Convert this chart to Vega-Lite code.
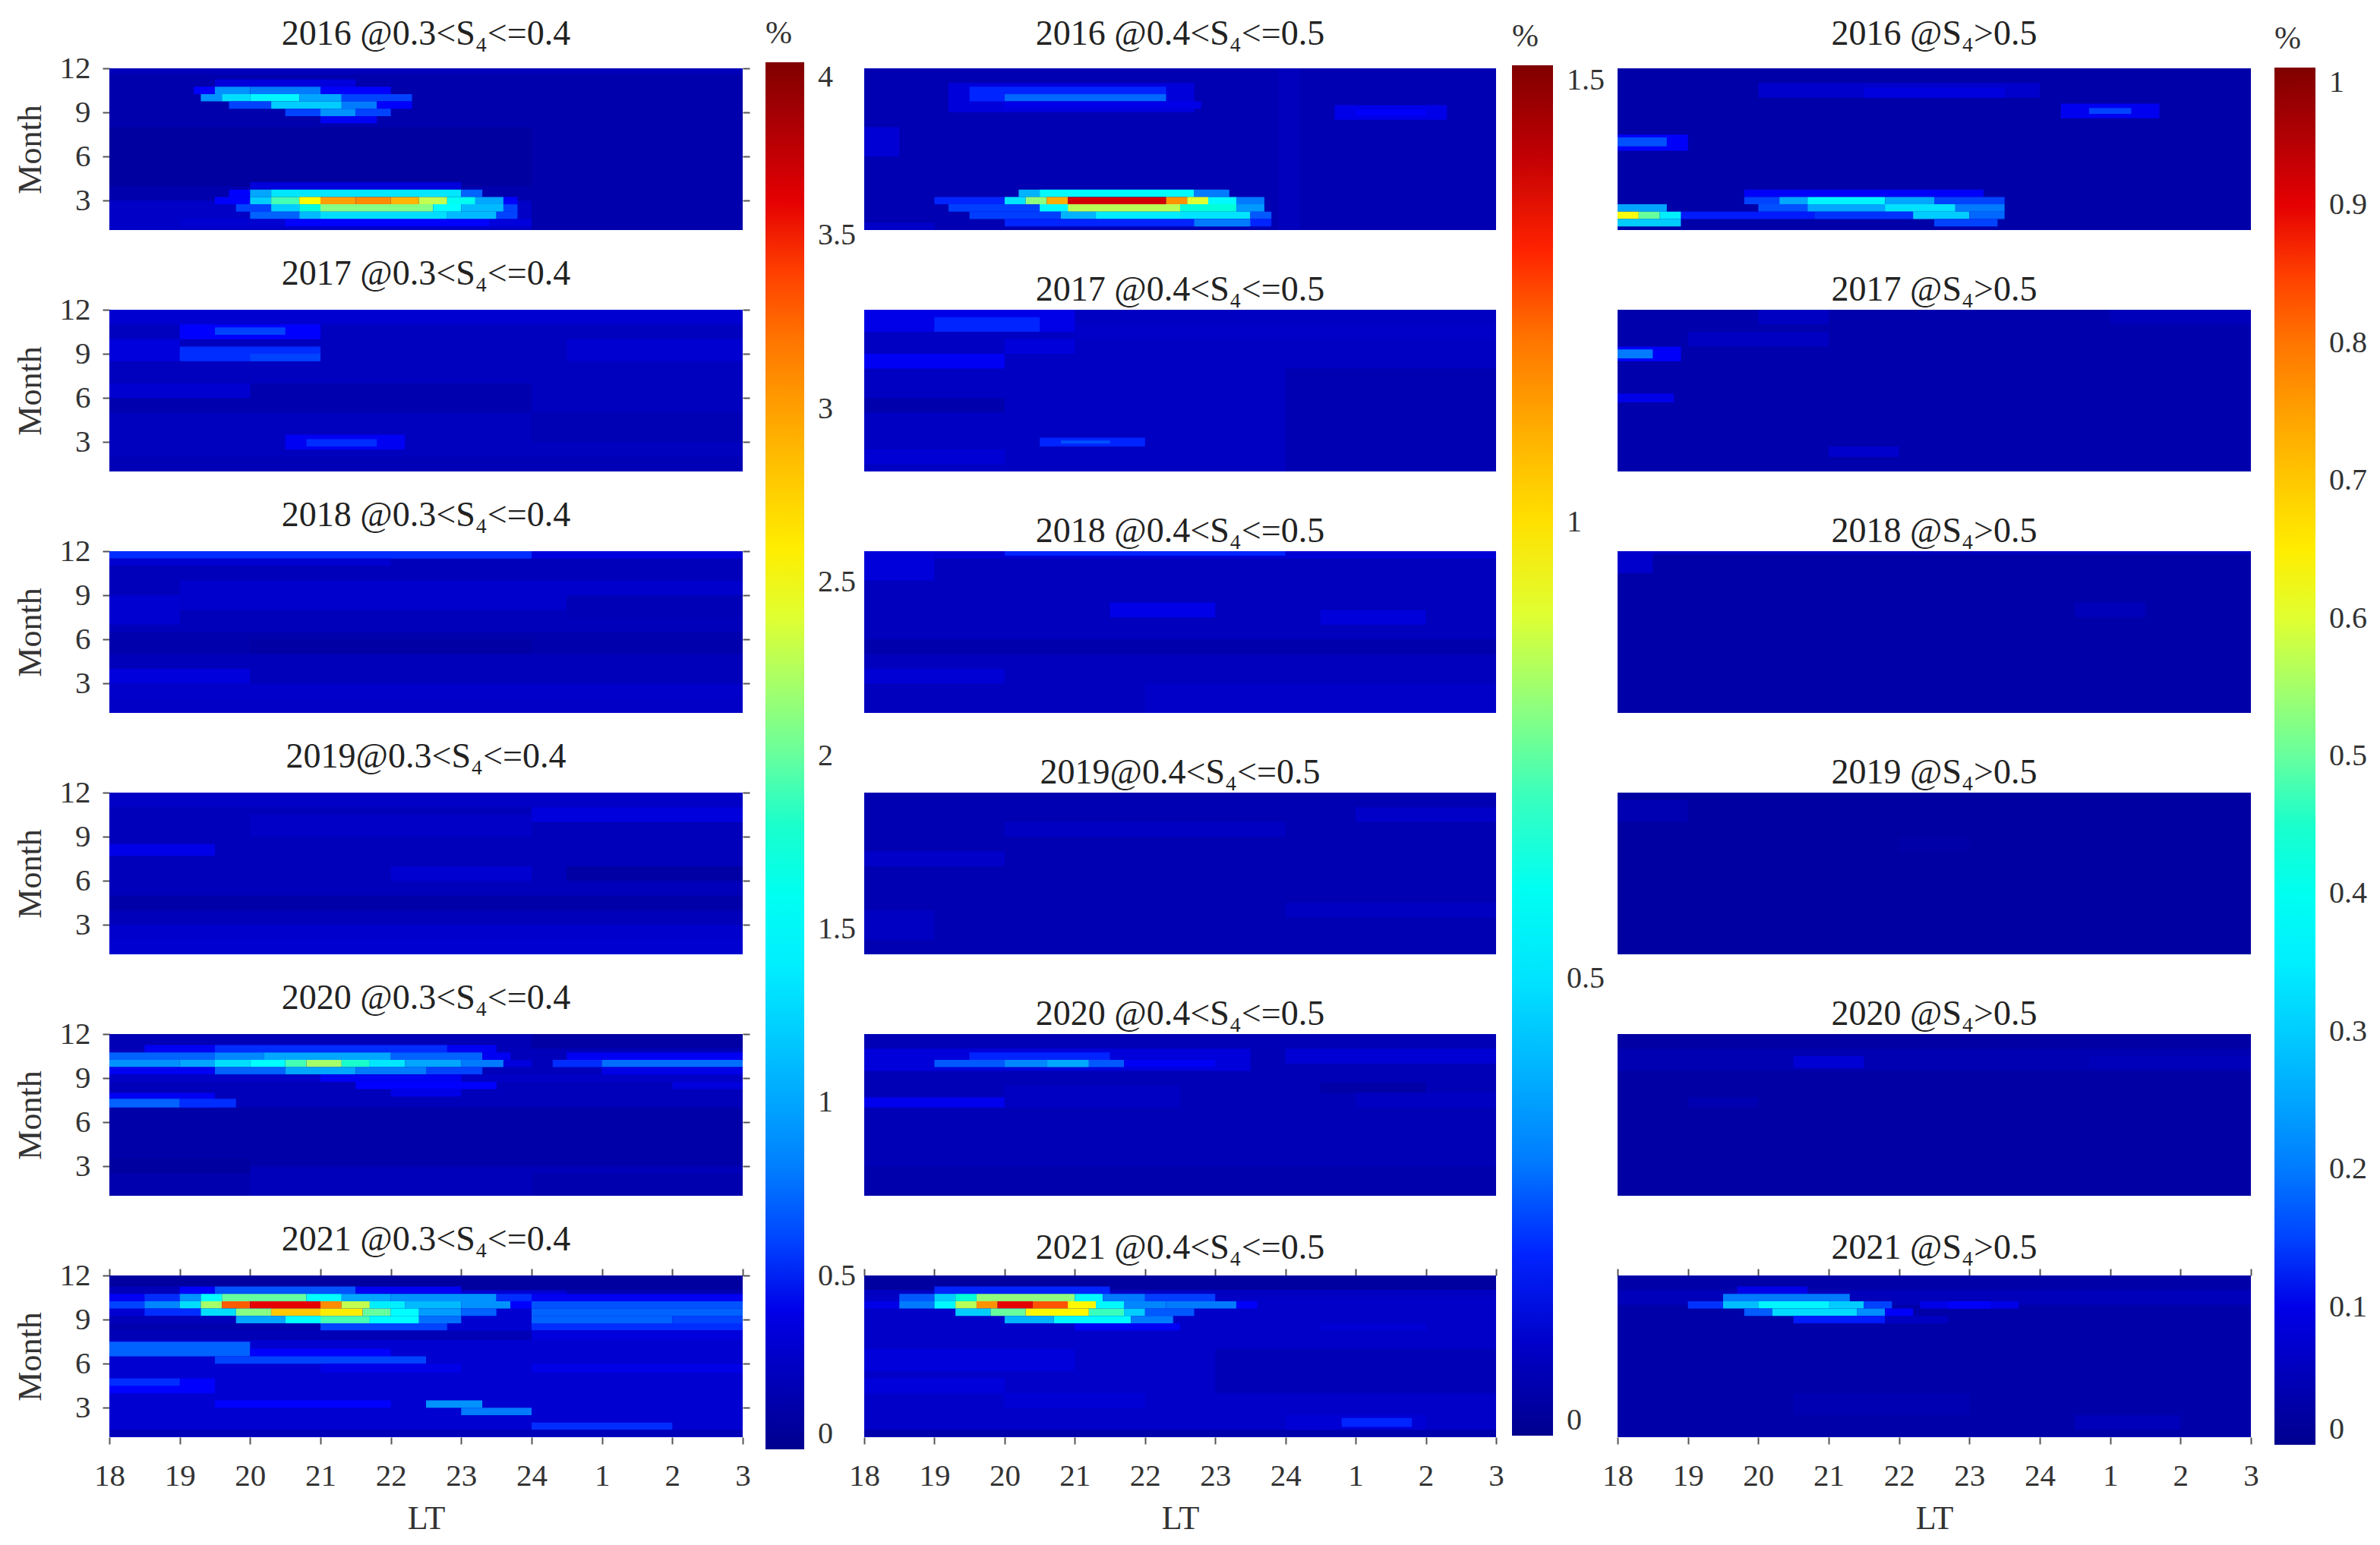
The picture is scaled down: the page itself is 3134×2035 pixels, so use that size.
{"$schema":"https://vega.github.io/schema/vega-lite/v6.json","background":"white","padding":{"left":18,"top":22,"right":0,"bottom":0},"bounds":"flush","columns":3,"spacing":{"column":160,"row":105},"resolve":{"scale":{"color":"independent"}},
"config":{"font":"Liberation Serif","view":{"stroke":null},"title":{"font":"Liberation Serif","fontSize":46,"fontWeight":"normal","color":"#222","offset":2},"axis":{"labelFont":"Liberation Serif","titleFont":"Liberation Serif","labelFontSize":41,"titleFontSize":44,"titleFontWeight":"normal","labelColor":"#333","titleColor":"#333","tickColor":"#555","tickSize":9,"tickWidth":2,"domain":false,"grid":false,"labelFlush":false},"legend":{"labelFont":"Liberation Serif","titleFont":"Liberation Serif","labelColor":"#333","titleColor":"#333"}},
"datasets":{
"a16":[{"lt":18,"lt2":27,"m":1,"m2":12,"v":0.14},{"lt":18,"lt2":27,"m":11.6,"m2":12,"v":0.2},{"lt":18,"lt2":24,"m":4,"m2":8,"v":0.08},{"lt":18,"lt2":24,"m":1,"m2":3,"v":0.25},{"lt":19.5,"lt2":21.5,"m":10.75,"m2":11.25,"v":0.35},{"lt":19.2,"lt2":19.5,"m":10.25,"m2":10.75,"v":0.5},{"lt":19.5,"lt2":20,"m":10.25,"m2":10.75,"v":0.9},{"lt":20,"lt2":21,"m":10.25,"m2":10.75,"v":0.8},{"lt":21,"lt2":22,"m":10.25,"m2":10.75,"v":0.5},{"lt":19.3,"lt2":19.6,"m":9.75,"m2":10.25,"v":0.9},{"lt":19.6,"lt2":20,"m":9.75,"m2":10.25,"v":1.3},{"lt":20,"lt2":20.7,"m":9.75,"m2":10.25,"v":1.45},{"lt":20.7,"lt2":21.3,"m":9.75,"m2":10.25,"v":1.0},{"lt":21.3,"lt2":22.3,"m":9.75,"m2":10.25,"v":0.6},{"lt":19.7,"lt2":20.3,"m":9.25,"m2":9.75,"v":0.6},{"lt":20.3,"lt2":21.3,"m":9.25,"m2":9.75,"v":1.2},{"lt":21.3,"lt2":21.8,"m":9.25,"m2":9.75,"v":0.8},{"lt":21.8,"lt2":22.3,"m":9.25,"m2":9.75,"v":0.5},{"lt":20.5,"lt2":21,"m":8.75,"m2":9.25,"v":0.6},{"lt":21,"lt2":21.5,"m":8.75,"m2":9.25,"v":0.9},{"lt":21.5,"lt2":22,"m":8.75,"m2":9.25,"v":0.6},{"lt":21,"lt2":21.8,"m":8.25,"m2":8.75,"v":0.45},{"lt":20,"lt2":23,"m":3.75,"m2":4.25,"v":0.35},{"lt":19.7,"lt2":20,"m":3.25,"m2":3.75,"v":0.5},{"lt":20,"lt2":20.3,"m":3.25,"m2":3.75,"v":1.0},{"lt":20.3,"lt2":23,"m":3.25,"m2":3.75,"v":1.35},{"lt":23,"lt2":23.3,"m":3.25,"m2":3.75,"v":0.7},{"lt":19.5,"lt2":20,"m":2.75,"m2":3.25,"v":0.5},{"lt":20,"lt2":20.3,"m":2.75,"m2":3.25,"v":1.2},{"lt":20.3,"lt2":20.7,"m":2.75,"m2":3.25,"v":1.9},{"lt":20.7,"lt2":21,"m":2.75,"m2":3.25,"v":2.5},{"lt":21,"lt2":21.5,"m":2.75,"m2":3.25,"v":3.0},{"lt":21.5,"lt2":22,"m":2.75,"m2":3.25,"v":3.1},{"lt":22,"lt2":22.4,"m":2.75,"m2":3.25,"v":2.9},{"lt":22.4,"lt2":22.8,"m":2.75,"m2":3.25,"v":2.3},{"lt":22.8,"lt2":23.2,"m":2.75,"m2":3.25,"v":1.6},{"lt":23.2,"lt2":23.6,"m":2.75,"m2":3.25,"v":1.0},{"lt":23.6,"lt2":23.8,"m":2.75,"m2":3.25,"v":0.5},{"lt":19.8,"lt2":20.3,"m":2.25,"m2":2.75,"v":0.6},{"lt":20.3,"lt2":20.7,"m":2.25,"m2":2.75,"v":1.2},{"lt":20.7,"lt2":21,"m":2.25,"m2":2.75,"v":1.7},{"lt":21,"lt2":22.6,"m":2.25,"m2":2.75,"v":2.1},{"lt":22.6,"lt2":23,"m":2.25,"m2":2.75,"v":1.5},{"lt":23,"lt2":23.6,"m":2.25,"m2":2.75,"v":1.1},{"lt":23.6,"lt2":23.8,"m":2.25,"m2":2.75,"v":0.6},{"lt":20,"lt2":20.7,"m":1.75,"m2":2.25,"v":0.7},{"lt":20.7,"lt2":21,"m":1.75,"m2":2.25,"v":1.1},{"lt":21,"lt2":22.8,"m":1.75,"m2":2.25,"v":1.3},{"lt":22.8,"lt2":23.5,"m":1.75,"m2":2.25,"v":1.1},{"lt":23.5,"lt2":23.8,"m":1.75,"m2":2.25,"v":0.6},{"lt":19,"lt2":20.5,"m":1.25,"m2":1.75,"v":0.3},{"lt":20.5,"lt2":23.4,"m":1.25,"m2":1.75,"v":0.5},{"lt":23.4,"lt2":24,"m":1.25,"m2":1.75,"v":0.35}],
"a17":[{"lt":18,"lt2":27,"m":1,"m2":12,"v":0.22},{"lt":18,"lt2":27,"m":11,"m2":12,"v":0.3},{"lt":19,"lt2":21,"m":10,"m2":11,"v":0.5},{"lt":19.5,"lt2":20.5,"m":10.3,"m2":10.8,"v":0.6},{"lt":18,"lt2":19,"m":8.5,"m2":10,"v":0.35},{"lt":19,"lt2":21,"m":8.5,"m2":9.5,"v":0.55},{"lt":20,"lt2":21,"m":8.5,"m2":9,"v":0.6},{"lt":24.5,"lt2":27,"m":8.5,"m2":10,"v":0.3},{"lt":18,"lt2":24,"m":5,"m2":7,"v":0.15},{"lt":18,"lt2":20,"m":6,"m2":7,"v":0.3},{"lt":20.5,"lt2":22.2,"m":2.5,"m2":3.5,"v":0.45},{"lt":20.8,"lt2":21.8,"m":2.7,"m2":3.2,"v":0.55},{"lt":18,"lt2":27,"m":1,"m2":2,"v":0.18},{"lt":24,"lt2":27,"m":3,"m2":5,"v":0.17}],
"a18":[{"lt":18,"lt2":27,"m":1,"m2":12,"v":0.2},{"lt":18,"lt2":24,"m":11.5,"m2":12,"v":0.55},{"lt":24,"lt2":27,"m":11.5,"m2":12,"v":0.35},{"lt":18,"lt2":22,"m":11,"m2":11.5,"v":0.3},{"lt":19,"lt2":27,"m":8,"m2":10,"v":0.28},{"lt":24.5,"lt2":27,"m":7.5,"m2":9,"v":0.18},{"lt":18,"lt2":27,"m":5,"m2":6.5,"v":0.14},{"lt":20,"lt2":24,"m":5,"m2":6,"v":0.1},{"lt":18,"lt2":20,"m":3,"m2":4,"v":0.35},{"lt":18,"lt2":27,"m":2,"m2":3,"v":0.27},{"lt":18,"lt2":27,"m":1,"m2":2,"v":0.25},{"lt":18,"lt2":19,"m":7,"m2":9,"v":0.3}],
"a19":[{"lt":18,"lt2":27,"m":1,"m2":12,"v":0.2},{"lt":18,"lt2":27,"m":11,"m2":12,"v":0.25},{"lt":18,"lt2":19.5,"m":7.7,"m2":8.5,"v":0.4},{"lt":20,"lt2":24,"m":9,"m2":10.5,"v":0.25},{"lt":24,"lt2":27,"m":10,"m2":11,"v":0.35},{"lt":18,"lt2":27,"m":4,"m2":5,"v":0.12},{"lt":24.5,"lt2":27,"m":6,"m2":7,"v":0.1},{"lt":18,"lt2":27,"m":2,"m2":3,"v":0.28},{"lt":18,"lt2":27,"m":1,"m2":2,"v":0.3},{"lt":22,"lt2":24,"m":6,"m2":7,"v":0.3}],
"a20":[{"lt":18,"lt2":27,"m":1,"m2":12,"v":0.2},{"lt":18,"lt2":27,"m":11,"m2":12,"v":0.18},{"lt":24,"lt2":27,"m":11,"m2":12,"v":0.1},{"lt":18,"lt2":27,"m":3,"m2":7,"v":0.12},{"lt":18,"lt2":27,"m":1,"m2":2.5,"v":0.15},{"lt":20,"lt2":24,"m":1,"m2":2.5,"v":0.2},{"lt":18,"lt2":20,"m":2.5,"m2":3.5,"v":0.08},{"lt":18.5,"lt2":23.5,"m":10.75,"m2":11.25,"v":0.45},{"lt":19.5,"lt2":22.8,"m":10.75,"m2":11.25,"v":0.55},{"lt":18,"lt2":19.5,"m":10.25,"m2":10.75,"v":0.7},{"lt":19.5,"lt2":20.2,"m":10.25,"m2":10.75,"v":0.85},{"lt":20.2,"lt2":22,"m":10.25,"m2":10.75,"v":1.0},{"lt":22,"lt2":23.3,"m":10.25,"m2":10.75,"v":0.7},{"lt":23.3,"lt2":23.7,"m":10.25,"m2":10.75,"v":0.45},{"lt":24.5,"lt2":27,"m":10.25,"m2":10.75,"v":0.45},{"lt":18,"lt2":19,"m":9.75,"m2":10.25,"v":0.9},{"lt":19,"lt2":19.5,"m":9.75,"m2":10.25,"v":1.0},{"lt":19.5,"lt2":20,"m":9.75,"m2":10.25,"v":1.3},{"lt":20,"lt2":20.5,"m":9.75,"m2":10.25,"v":1.5},{"lt":20.5,"lt2":20.8,"m":9.75,"m2":10.25,"v":1.9},{"lt":20.8,"lt2":21.3,"m":9.75,"m2":10.25,"v":2.2},{"lt":21.3,"lt2":21.7,"m":9.75,"m2":10.25,"v":1.8},{"lt":21.7,"lt2":22.2,"m":9.75,"m2":10.25,"v":1.35},{"lt":22.2,"lt2":23,"m":9.75,"m2":10.25,"v":1.0},{"lt":23,"lt2":23.6,"m":9.75,"m2":10.25,"v":0.8},{"lt":23.6,"lt2":24,"m":9.75,"m2":10.25,"v":0.35},{"lt":24.3,"lt2":25,"m":9.75,"m2":10.25,"v":0.55},{"lt":25,"lt2":27,"m":9.75,"m2":10.25,"v":0.75},{"lt":18,"lt2":19.5,"m":9.25,"m2":9.75,"v":0.45},{"lt":19.5,"lt2":20.5,"m":9.25,"m2":9.75,"v":0.7},{"lt":20.5,"lt2":21.5,"m":9.25,"m2":9.75,"v":1.0},{"lt":21.5,"lt2":22.5,"m":9.25,"m2":9.75,"v":0.8},{"lt":22.5,"lt2":23.3,"m":9.25,"m2":9.75,"v":0.6},{"lt":25,"lt2":27,"m":9.25,"m2":9.75,"v":0.4},{"lt":18,"lt2":27,"m":8.75,"m2":9.25,"v":0.25},{"lt":21,"lt2":23,"m":8.75,"m2":9.25,"v":0.45},{"lt":21.5,"lt2":23.5,"m":8.25,"m2":8.75,"v":0.5},{"lt":26,"lt2":27,"m":8.25,"m2":8.75,"v":0.35},{"lt":22,"lt2":23,"m":7.75,"m2":8.25,"v":0.4},{"lt":18,"lt2":19.5,"m":7,"m2":8,"v":0.45},{"lt":18,"lt2":19,"m":7,"m2":7.6,"v":0.7},{"lt":19,"lt2":19.8,"m":7,"m2":7.6,"v":0.55}],
"a21":[{"lt":18,"lt2":27,"m":1,"m2":12,"v":0.3},{"lt":18,"lt2":27,"m":11,"m2":12,"v":0.08},{"lt":24.5,"lt2":27,"m":10.5,"m2":11,"v":0.15},{"lt":18,"lt2":19,"m":10.75,"m2":11.25,"v":0.2},{"lt":19,"lt2":19.5,"m":10.75,"m2":11.25,"v":0.5},{"lt":19.5,"lt2":21.5,"m":10.75,"m2":11.25,"v":0.65},{"lt":21.5,"lt2":23,"m":10.75,"m2":11.25,"v":0.45},{"lt":18,"lt2":18.5,"m":10.25,"m2":10.75,"v":0.45},{"lt":18.5,"lt2":19,"m":10.25,"m2":10.75,"v":0.55},{"lt":19,"lt2":19.3,"m":10.25,"m2":10.75,"v":0.9},{"lt":19.3,"lt2":19.6,"m":10.25,"m2":10.75,"v":1.5},{"lt":19.6,"lt2":20.8,"m":10.25,"m2":10.75,"v":2.0},{"lt":20.8,"lt2":21.3,"m":10.25,"m2":10.75,"v":1.5},{"lt":21.3,"lt2":22,"m":10.25,"m2":10.75,"v":1.0},{"lt":22,"lt2":23.5,"m":10.25,"m2":10.75,"v":0.9},{"lt":23.5,"lt2":24,"m":10.25,"m2":10.75,"v":0.55},{"lt":24,"lt2":27,"m":10.25,"m2":10.75,"v":0.45},{"lt":18,"lt2":18.5,"m":9.75,"m2":10.25,"v":0.6},{"lt":18.5,"lt2":19,"m":9.75,"m2":10.25,"v":0.85},{"lt":19,"lt2":19.3,"m":9.75,"m2":10.25,"v":1.3},{"lt":19.3,"lt2":19.6,"m":9.75,"m2":10.25,"v":2.2},{"lt":19.6,"lt2":20,"m":9.75,"m2":10.25,"v":3.3},{"lt":20,"lt2":21,"m":9.75,"m2":10.25,"v":3.6},{"lt":21,"lt2":21.3,"m":9.75,"m2":10.25,"v":3.1},{"lt":21.3,"lt2":21.7,"m":9.75,"m2":10.25,"v":2.3},{"lt":21.7,"lt2":22.2,"m":9.75,"m2":10.25,"v":1.4},{"lt":22.2,"lt2":23,"m":9.75,"m2":10.25,"v":1.1},{"lt":23,"lt2":23.7,"m":9.75,"m2":10.25,"v":0.9},{"lt":23.7,"lt2":24,"m":9.75,"m2":10.25,"v":0.5},{"lt":24,"lt2":27,"m":9.75,"m2":10.25,"v":0.65},{"lt":18.5,"lt2":19.3,"m":9.25,"m2":9.75,"v":0.55},{"lt":19.3,"lt2":19.8,"m":9.25,"m2":9.75,"v":1.3},{"lt":19.8,"lt2":20.3,"m":9.25,"m2":9.75,"v":2.1},{"lt":20.3,"lt2":21,"m":9.25,"m2":9.75,"v":2.8},{"lt":21,"lt2":21.6,"m":9.25,"m2":9.75,"v":2.6},{"lt":21.6,"lt2":22,"m":9.25,"m2":9.75,"v":2.0},{"lt":22,"lt2":22.4,"m":9.25,"m2":9.75,"v":1.5},{"lt":22.4,"lt2":23,"m":9.25,"m2":9.75,"v":0.95},{"lt":23,"lt2":23.5,"m":9.25,"m2":9.75,"v":0.7},{"lt":24,"lt2":27,"m":9.25,"m2":9.75,"v":0.7},{"lt":18,"lt2":19.8,"m":8.75,"m2":9.25,"v":0.2},{"lt":19.8,"lt2":20.5,"m":8.75,"m2":9.25,"v":1.0},{"lt":20.5,"lt2":21,"m":8.75,"m2":9.25,"v":1.5},{"lt":21,"lt2":21.7,"m":8.75,"m2":9.25,"v":1.9},{"lt":21.7,"lt2":22.4,"m":8.75,"m2":9.25,"v":1.5},{"lt":22.4,"lt2":23,"m":8.75,"m2":9.25,"v":0.75},{"lt":24,"lt2":26,"m":8.75,"m2":9.25,"v":0.7},{"lt":26,"lt2":27,"m":8.75,"m2":9.25,"v":0.6},{"lt":18,"lt2":21,"m":8.25,"m2":8.75,"v":0.15},{"lt":21,"lt2":22.8,"m":8.25,"m2":8.75,"v":0.6},{"lt":24,"lt2":27,"m":8.25,"m2":8.75,"v":0.55},{"lt":18,"lt2":27,"m":7.6,"m2":8.25,"v":0.18},{"lt":24,"lt2":27,"m":7.6,"m2":8.25,"v":0.35},{"lt":18,"lt2":20,"m":6.5,"m2":7.5,"v":0.7},{"lt":20,"lt2":22,"m":6.5,"m2":7,"v":0.5},{"lt":19.5,"lt2":22.5,"m":6,"m2":6.5,"v":0.6},{"lt":21,"lt2":23,"m":5.4,"m2":6,"v":0.4},{"lt":24,"lt2":27,"m":5.4,"m2":6,"v":0.4},{"lt":18,"lt2":19.5,"m":4,"m2":5,"v":0.5},{"lt":18,"lt2":19,"m":4.5,"m2":5,"v":0.55},{"lt":19.5,"lt2":22,"m":3,"m2":3.5,"v":0.5},{"lt":22.5,"lt2":23.3,"m":3,"m2":3.5,"v":0.9},{"lt":23,"lt2":24,"m":2.5,"m2":3,"v":0.8},{"lt":24,"lt2":26,"m":1.5,"m2":2,"v":0.55},{"lt":18,"lt2":27,"m":1,"m2":1.5,"v":0.2}],
"b16":[{"lt":18,"lt2":27,"m":1,"m2":12,"v":0.06},{"lt":23.9,"lt2":24.2,"m":1,"m2":12,"v":0.08},{"lt":19.2,"lt2":22.7,"m":9,"m2":11,"v":0.13},{"lt":19.5,"lt2":22.3,"m":10.25,"m2":10.75,"v":0.2},{"lt":19.5,"lt2":20,"m":9.75,"m2":10.25,"v":0.2},{"lt":20,"lt2":22.3,"m":9.75,"m2":10.25,"v":0.27},{"lt":20,"lt2":22.8,"m":9.25,"m2":9.75,"v":0.15},{"lt":24.7,"lt2":26.3,"m":8.5,"m2":9.5,"v":0.15},{"lt":25,"lt2":26,"m":8.8,"m2":9.2,"v":0.18},{"lt":18,"lt2":18.5,"m":6,"m2":8,"v":0.12},{"lt":20.2,"lt2":20.5,"m":3.25,"m2":3.75,"v":0.4},{"lt":20.5,"lt2":22.7,"m":3.25,"m2":3.75,"v":0.55},{"lt":22.7,"lt2":23.2,"m":3.25,"m2":3.75,"v":0.3},{"lt":19,"lt2":20,"m":2.75,"m2":3.25,"v":0.2},{"lt":20,"lt2":20.3,"m":2.75,"m2":3.25,"v":0.5},{"lt":20.3,"lt2":20.6,"m":2.75,"m2":3.25,"v":0.8},{"lt":20.6,"lt2":20.9,"m":2.75,"m2":3.25,"v":1.1},{"lt":20.9,"lt2":22.3,"m":2.75,"m2":3.25,"v":1.38},{"lt":22.3,"lt2":22.6,"m":2.75,"m2":3.25,"v":1.15},{"lt":22.6,"lt2":22.9,"m":2.75,"m2":3.25,"v":0.9},{"lt":22.9,"lt2":23.3,"m":2.75,"m2":3.25,"v":0.55},{"lt":23.3,"lt2":23.7,"m":2.75,"m2":3.25,"v":0.3},{"lt":19.2,"lt2":20.5,"m":2.25,"m2":2.75,"v":0.22},{"lt":20.5,"lt2":20.9,"m":2.25,"m2":2.75,"v":0.55},{"lt":20.9,"lt2":22.5,"m":2.25,"m2":2.75,"v":0.85},{"lt":22.5,"lt2":23.3,"m":2.25,"m2":2.75,"v":0.65},{"lt":23.3,"lt2":23.7,"m":2.25,"m2":2.75,"v":0.35},{"lt":19.5,"lt2":20.8,"m":1.75,"m2":2.25,"v":0.22},{"lt":20.8,"lt2":21.3,"m":1.75,"m2":2.25,"v":0.4},{"lt":21.3,"lt2":22.5,"m":1.75,"m2":2.25,"v":0.52},{"lt":22.5,"lt2":23.5,"m":1.75,"m2":2.25,"v":0.5},{"lt":23.5,"lt2":23.8,"m":1.75,"m2":2.25,"v":0.25},{"lt":20,"lt2":23.8,"m":1.25,"m2":1.75,"v":0.2},{"lt":22.7,"lt2":23.5,"m":1.25,"m2":1.75,"v":0.3},{"lt":18,"lt2":19,"m":1,"m2":1.5,"v":0.1}],
"b17":[{"lt":18,"lt2":27,"m":1,"m2":12,"v":0.09},{"lt":18,"lt2":21,"m":10.5,"m2":12,"v":0.15},{"lt":19,"lt2":20.5,"m":10.5,"m2":11.5,"v":0.2},{"lt":18,"lt2":20,"m":8,"m2":9,"v":0.17},{"lt":21,"lt2":27,"m":10,"m2":11,"v":0.1},{"lt":20,"lt2":21,"m":9,"m2":10,"v":0.13},{"lt":20.5,"lt2":22,"m":2.7,"m2":3.3,"v":0.2},{"lt":20.8,"lt2":21.5,"m":2.9,"m2":3.1,"v":0.24},{"lt":18,"lt2":20,"m":1.5,"m2":2.5,"v":0.12},{"lt":24,"lt2":27,"m":1,"m2":8,"v":0.06},{"lt":18,"lt2":20,"m":5,"m2":6,"v":0.05}],
"b18":[{"lt":18,"lt2":27,"m":1,"m2":12,"v":0.08},{"lt":18,"lt2":27,"m":11.5,"m2":12,"v":0.12},{"lt":20,"lt2":24,"m":11.7,"m2":12,"v":0.2},{"lt":21.5,"lt2":23,"m":7.5,"m2":8.5,"v":0.15},{"lt":24.5,"lt2":26,"m":7,"m2":8,"v":0.13},{"lt":18,"lt2":20,"m":3,"m2":4,"v":0.12},{"lt":18,"lt2":19,"m":10,"m2":12,"v":0.13},{"lt":18,"lt2":27,"m":5,"m2":6,"v":0.05},{"lt":22,"lt2":27,"m":1,"m2":3,"v":0.1}],
"b19":[{"lt":18,"lt2":27,"m":1,"m2":12,"v":0.06},{"lt":18,"lt2":20,"m":7,"m2":8,"v":0.1},{"lt":25,"lt2":27,"m":10,"m2":11,"v":0.1},{"lt":18,"lt2":19,"m":2,"m2":4,"v":0.09},{"lt":20,"lt2":24,"m":9,"m2":10,"v":0.09},{"lt":24,"lt2":27,"m":3.5,"m2":4.5,"v":0.09}],
"b20":[{"lt":18,"lt2":27,"m":1,"m2":12,"v":0.07},{"lt":18,"lt2":27,"m":1,"m2":3,"v":0.05},{"lt":18,"lt2":23.5,"m":9.5,"m2":11,"v":0.13},{"lt":19.5,"lt2":21.5,"m":10.25,"m2":10.75,"v":0.2},{"lt":19,"lt2":20,"m":9.75,"m2":10.25,"v":0.25},{"lt":20,"lt2":20.6,"m":9.75,"m2":10.25,"v":0.32},{"lt":20.6,"lt2":21.2,"m":9.75,"m2":10.25,"v":0.38},{"lt":21.2,"lt2":21.7,"m":9.75,"m2":10.25,"v":0.25},{"lt":21.7,"lt2":23,"m":9.75,"m2":10.25,"v":0.17},{"lt":18,"lt2":20,"m":7,"m2":7.7,"v":0.16},{"lt":20,"lt2":22.5,"m":7,"m2":8.5,"v":0.09},{"lt":24,"lt2":27,"m":10,"m2":11,"v":0.12},{"lt":24.5,"lt2":26,"m":8,"m2":8.7,"v":0.04},{"lt":25,"lt2":27,"m":7,"m2":8,"v":0.09}],
"b21":[{"lt":18,"lt2":27,"m":1,"m2":12,"v":0.1},{"lt":18,"lt2":27,"m":11,"m2":12,"v":0.03},{"lt":18,"lt2":27,"m":10.5,"m2":11,"v":0.09},{"lt":19,"lt2":21.5,"m":10.75,"m2":11.25,"v":0.2},{"lt":18.5,"lt2":19,"m":10.25,"m2":10.75,"v":0.25},{"lt":19,"lt2":19.3,"m":10.25,"m2":10.75,"v":0.45},{"lt":19.3,"lt2":19.6,"m":10.25,"m2":10.75,"v":0.65},{"lt":19.6,"lt2":21,"m":10.25,"m2":10.75,"v":0.8},{"lt":21,"lt2":21.4,"m":10.25,"m2":10.75,"v":0.55},{"lt":21.4,"lt2":22,"m":10.25,"m2":10.75,"v":0.3},{"lt":22,"lt2":23,"m":10.25,"m2":10.75,"v":0.22},{"lt":18,"lt2":18.5,"m":9.75,"m2":10.25,"v":0.15},{"lt":18.5,"lt2":19,"m":9.75,"m2":10.25,"v":0.3},{"lt":19,"lt2":19.3,"m":9.75,"m2":10.25,"v":0.55},{"lt":19.3,"lt2":19.6,"m":9.75,"m2":10.25,"v":0.85},{"lt":19.6,"lt2":19.9,"m":9.75,"m2":10.25,"v":1.15},{"lt":19.9,"lt2":20.4,"m":9.75,"m2":10.25,"v":1.35},{"lt":20.4,"lt2":20.9,"m":9.75,"m2":10.25,"v":1.25},{"lt":20.9,"lt2":21.3,"m":9.75,"m2":10.25,"v":0.95},{"lt":21.3,"lt2":21.7,"m":9.75,"m2":10.25,"v":0.55},{"lt":21.7,"lt2":22.3,"m":9.75,"m2":10.25,"v":0.32},{"lt":22.3,"lt2":23.3,"m":9.75,"m2":10.25,"v":0.3},{"lt":23.3,"lt2":23.6,"m":9.75,"m2":10.25,"v":0.18},{"lt":19.3,"lt2":19.8,"m":9.25,"m2":9.75,"v":0.45},{"lt":19.8,"lt2":20.3,"m":9.25,"m2":9.75,"v":0.75},{"lt":20.3,"lt2":21.2,"m":9.25,"m2":9.75,"v":0.95},{"lt":21.2,"lt2":21.7,"m":9.25,"m2":9.75,"v":0.7},{"lt":21.7,"lt2":22,"m":9.25,"m2":9.75,"v":0.45},{"lt":22,"lt2":22.7,"m":9.25,"m2":9.75,"v":0.25},{"lt":20,"lt2":20.7,"m":8.75,"m2":9.25,"v":0.4},{"lt":20.7,"lt2":21.8,"m":8.75,"m2":9.25,"v":0.55},{"lt":21.8,"lt2":22.4,"m":8.75,"m2":9.25,"v":0.3},{"lt":21,"lt2":22.5,"m":8.25,"m2":8.75,"v":0.17},{"lt":24.5,"lt2":26,"m":8.25,"m2":8.75,"v":0.12},{"lt":18,"lt2":21,"m":5.5,"m2":7,"v":0.13},{"lt":20,"lt2":22,"m":3,"m2":4,"v":0.12},{"lt":24,"lt2":26,"m":1.5,"m2":2.5,"v":0.12},{"lt":24.8,"lt2":25.8,"m":1.7,"m2":2.3,"v":0.2},{"lt":18,"lt2":27,"m":1,"m2":1.5,"v":0.05},{"lt":18,"lt2":20,"m":4,"m2":5,"v":0.13},{"lt":23,"lt2":27,"m":4,"m2":7,"v":0.07}],
"c16":[{"lt":18,"lt2":27,"m":1,"m2":12,"v":0.03},{"lt":20,"lt2":24,"m":10,"m2":11,"v":0.07},{"lt":21.5,"lt2":23.5,"m":10,"m2":10.7,"v":0.09},{"lt":24.3,"lt2":25.7,"m":8.6,"m2":9.6,"v":0.11},{"lt":24.7,"lt2":25.3,"m":8.9,"m2":9.3,"v":0.15},{"lt":18,"lt2":19,"m":6.4,"m2":7.5,"v":0.12},{"lt":18,"lt2":18.7,"m":6.7,"m2":7.3,"v":0.16},{"lt":19.8,"lt2":23.2,"m":3.25,"m2":3.75,"v":0.12},{"lt":19.8,"lt2":20.3,"m":2.75,"m2":3.25,"v":0.15},{"lt":20.3,"lt2":20.7,"m":2.75,"m2":3.25,"v":0.25},{"lt":20.7,"lt2":21.8,"m":2.75,"m2":3.25,"v":0.36},{"lt":21.8,"lt2":22.5,"m":2.75,"m2":3.25,"v":0.25},{"lt":22.5,"lt2":23.5,"m":2.75,"m2":3.25,"v":0.15},{"lt":20,"lt2":20.7,"m":2.25,"m2":2.75,"v":0.16},{"lt":20.7,"lt2":21.8,"m":2.25,"m2":2.75,"v":0.25},{"lt":21.8,"lt2":22.8,"m":2.25,"m2":2.75,"v":0.33},{"lt":22.8,"lt2":23.5,"m":2.25,"m2":2.75,"v":0.2},{"lt":18.9,"lt2":20.8,"m":1.75,"m2":2.25,"v":0.13},{"lt":20.8,"lt2":22.2,"m":1.75,"m2":2.25,"v":0.14},{"lt":22.2,"lt2":23,"m":1.75,"m2":2.25,"v":0.3},{"lt":23,"lt2":23.5,"m":1.75,"m2":2.25,"v":0.18},{"lt":22.5,"lt2":23.4,"m":1.25,"m2":1.75,"v":0.15},{"lt":18,"lt2":18.7,"m":2.25,"m2":2.75,"v":0.25},{"lt":18,"lt2":18.3,"m":1.75,"m2":2.25,"v":0.62},{"lt":18.3,"lt2":18.6,"m":1.75,"m2":2.25,"v":0.5},{"lt":18.6,"lt2":18.9,"m":1.75,"m2":2.25,"v":0.35},{"lt":18,"lt2":18.9,"m":1.25,"m2":1.75,"v":0.3}],
"c17":[{"lt":18,"lt2":27,"m":1,"m2":12,"v":0.035},{"lt":18,"lt2":18.9,"m":8.5,"m2":9.5,"v":0.12},{"lt":18,"lt2":18.5,"m":8.7,"m2":9.3,"v":0.2},{"lt":18,"lt2":18.8,"m":5.7,"m2":6.3,"v":0.1},{"lt":20,"lt2":21,"m":11,"m2":12,"v":0.06},{"lt":19,"lt2":21,"m":9.5,"m2":10.5,"v":0.06},{"lt":21,"lt2":22,"m":2,"m2":2.7,"v":0.07},{"lt":25,"lt2":27,"m":11,"m2":12,"v":0.05}],
"c18":[{"lt":18,"lt2":27,"m":1,"m2":12,"v":0.03},{"lt":18,"lt2":27,"m":11.8,"m2":12,"v":0.06},{"lt":18,"lt2":18.5,"m":10.5,"m2":12,"v":0.07},{"lt":24.5,"lt2":25.5,"m":7.5,"m2":8.5,"v":0.05}],
"c19":[{"lt":18,"lt2":27,"m":1,"m2":12,"v":0.022},{"lt":18,"lt2":19,"m":10,"m2":11.5,"v":0.04},{"lt":22,"lt2":23,"m":8,"m2":9,"v":0.03}],
"c20":[{"lt":18,"lt2":27,"m":1,"m2":12,"v":0.025},{"lt":18,"lt2":27,"m":9.5,"m2":11,"v":0.04},{"lt":20.5,"lt2":21.5,"m":9.7,"m2":10.5,"v":0.08},{"lt":24.7,"lt2":27,"m":9.7,"m2":10.5,"v":0.05},{"lt":19,"lt2":20,"m":7,"m2":7.7,"v":0.04}],
"c21":[{"lt":18,"lt2":27,"m":1,"m2":12,"v":0.03},{"lt":18,"lt2":27,"m":10,"m2":11,"v":0.05},{"lt":19.7,"lt2":20.7,"m":10.75,"m2":11.25,"v":0.1},{"lt":19.5,"lt2":21.3,"m":10.25,"m2":10.75,"v":0.2},{"lt":19,"lt2":19.5,"m":9.75,"m2":10.25,"v":0.14},{"lt":19.5,"lt2":20,"m":9.75,"m2":10.25,"v":0.28},{"lt":20,"lt2":21,"m":9.75,"m2":10.25,"v":0.36},{"lt":21,"lt2":21.5,"m":9.75,"m2":10.25,"v":0.3},{"lt":21.5,"lt2":21.9,"m":9.75,"m2":10.25,"v":0.15},{"lt":22.3,"lt2":23.7,"m":9.75,"m2":10.25,"v":0.1},{"lt":22.7,"lt2":23.3,"m":9.75,"m2":10.25,"v":0.12},{"lt":19.8,"lt2":20.2,"m":9.25,"m2":9.75,"v":0.17},{"lt":20.2,"lt2":21.4,"m":9.25,"m2":9.75,"v":0.32},{"lt":21.4,"lt2":21.8,"m":9.25,"m2":9.75,"v":0.22},{"lt":21.8,"lt2":22.2,"m":9.25,"m2":9.75,"v":0.12},{"lt":20.5,"lt2":21.8,"m":8.75,"m2":9.25,"v":0.13},{"lt":21.8,"lt2":22.7,"m":8.75,"m2":9.25,"v":0.06},{"lt":24.5,"lt2":26,"m":1.5,"m2":2.5,"v":0.05},{"lt":20.5,"lt2":23,"m":2.5,"m2":4,"v":0.04}]
},
"concat":[
{"title":{"text":"2016 @0.3<S₄<=0.4","offset":-45},"data":{"name":"a16"},"width":834,"height":213,"resolve":{"axis":{"y":"independent"}},"encoding":{"x":{"field":"lt","type":"quantitative","scale":{"domain":[18,27]},"axis":null},"x2":{"field":"lt2"},"y":{"field":"m","type":"quantitative","scale":{"domain":[1,12]},"axis":{"values":[3,6,9,12],"title":"Month","labelPadding":16,"titlePadding":16}},"y2":{"field":"m2"}},"layer":[{"mark":{"type":"rect","clip":true},"encoding":{"color":{"field":"v","type":"quantitative","scale":{"domain":[0,0.5,1.5,2.5,3.5,4],"range":["#00008f","#0000ff","#00ffff","#ffff00","#ff0000","#800000"]},"legend":{"orient":"none","legendX":864,"legendY":-66,"title":"%","direction":"vertical","gradientLength":1827,"gradientThickness":51,"gradientStrokeWidth":0,"values":[0,0.5,1,1.5,2,2.5,3,3.5,4],"format":".1~f","titleFontSize":42,"titleFontWeight":"normal","titlePadding":16,"labelFontSize":40,"labelOffset":18,"labelOverlap":false,"labelBaseline":"middle"}}}},{"mark":{"type":"rect","opacity":0},"encoding":{"y":{"field":"m","type":"quantitative","scale":{"domain":[1,12]},"axis":{"orient":"right","values":[3,6,9,12],"labels":false,"title":null}}}}]},
{"title":{"text":"2016 @0.4<S₄<=0.5","offset":-41},"data":{"name":"b16"},"width":832,"height":213,"mark":{"type":"rect","clip":true},"encoding":{"x":{"field":"lt","type":"quantitative","scale":{"domain":[18,27]},"axis":null},"x2":{"field":"lt2"},"y":{"field":"m","type":"quantitative","scale":{"domain":[1,12]},"axis":null},"y2":{"field":"m2"},"color":{"field":"v","type":"quantitative","scale":{"domain":[0,0.1875,0.5625,0.9375,1.3125,1.5],"range":["#00008f","#0000ff","#00ffff","#ffff00","#ff0000","#800000"]},"legend":{"orient":"none","legendX":853,"legendY":-62,"title":"%","direction":"vertical","gradientLength":1805,"gradientThickness":54,"gradientStrokeWidth":0,"values":[0,0.5,1,1.5],"format":".1~f","titleFontSize":42,"titleFontWeight":"normal","titlePadding":16,"labelFontSize":40,"labelOffset":18,"labelOverlap":false,"labelBaseline":"middle"}}}},
{"title":{"text":"2016 @S₄>0.5","offset":-38},"data":{"name":"c16"},"width":834,"height":213,"mark":{"type":"rect","clip":true},"encoding":{"x":{"field":"lt","type":"quantitative","scale":{"domain":[18,27]},"axis":null},"x2":{"field":"lt2"},"y":{"field":"m","type":"quantitative","scale":{"domain":[1,12]},"axis":null},"y2":{"field":"m2"},"color":{"field":"v","type":"quantitative","scale":{"domain":[0,0.125,0.375,0.625,0.875,1],"range":["#00008f","#0000ff","#00ffff","#ffff00","#ff0000","#800000"]},"legend":{"orient":"none","legendX":865,"legendY":-59,"title":"%","direction":"vertical","gradientLength":1814,"gradientThickness":54,"gradientStrokeWidth":0,"values":[0,0.1,0.2,0.3,0.4,0.5,0.6,0.7,0.8,0.9,1],"format":".1~f","titleFontSize":42,"titleFontWeight":"normal","titlePadding":16,"labelFontSize":40,"labelOffset":18,"labelOverlap":false,"labelBaseline":"middle"}}}},
{"title":"2017 @0.3<S₄<=0.4","data":{"name":"a17"},"width":834,"height":213,"resolve":{"axis":{"y":"independent"}},"encoding":{"x":{"field":"lt","type":"quantitative","scale":{"domain":[18,27]},"axis":null},"x2":{"field":"lt2"},"y":{"field":"m","type":"quantitative","scale":{"domain":[1,12]},"axis":{"values":[3,6,9,12],"title":"Month","labelPadding":16,"titlePadding":16}},"y2":{"field":"m2"}},"layer":[{"mark":{"type":"rect","clip":true},"encoding":{"color":{"field":"v","type":"quantitative","scale":{"domain":[0,0.5,1.5,2.5,3.5,4],"range":["#00008f","#0000ff","#00ffff","#ffff00","#ff0000","#800000"]},"legend":null}}},{"mark":{"type":"rect","opacity":0},"encoding":{"y":{"field":"m","type":"quantitative","scale":{"domain":[1,12]},"axis":{"orient":"right","values":[3,6,9,12],"labels":false,"title":null}}}}]},
{"title":"2017 @0.4<S₄<=0.5","data":{"name":"b17"},"width":832,"height":213,"mark":{"type":"rect","clip":true},"encoding":{"x":{"field":"lt","type":"quantitative","scale":{"domain":[18,27]},"axis":null},"x2":{"field":"lt2"},"y":{"field":"m","type":"quantitative","scale":{"domain":[1,12]},"axis":null},"y2":{"field":"m2"},"color":{"field":"v","type":"quantitative","scale":{"domain":[0,0.1875,0.5625,0.9375,1.3125,1.5],"range":["#00008f","#0000ff","#00ffff","#ffff00","#ff0000","#800000"]},"legend":null}}},
{"title":"2017 @S₄>0.5","data":{"name":"c17"},"width":834,"height":213,"mark":{"type":"rect","clip":true},"encoding":{"x":{"field":"lt","type":"quantitative","scale":{"domain":[18,27]},"axis":null},"x2":{"field":"lt2"},"y":{"field":"m","type":"quantitative","scale":{"domain":[1,12]},"axis":null},"y2":{"field":"m2"},"color":{"field":"v","type":"quantitative","scale":{"domain":[0,0.125,0.375,0.625,0.875,1],"range":["#00008f","#0000ff","#00ffff","#ffff00","#ff0000","#800000"]},"legend":null}}},
{"title":"2018 @0.3<S₄<=0.4","data":{"name":"a18"},"width":834,"height":213,"resolve":{"axis":{"y":"independent"}},"encoding":{"x":{"field":"lt","type":"quantitative","scale":{"domain":[18,27]},"axis":null},"x2":{"field":"lt2"},"y":{"field":"m","type":"quantitative","scale":{"domain":[1,12]},"axis":{"values":[3,6,9,12],"title":"Month","labelPadding":16,"titlePadding":16}},"y2":{"field":"m2"}},"layer":[{"mark":{"type":"rect","clip":true},"encoding":{"color":{"field":"v","type":"quantitative","scale":{"domain":[0,0.5,1.5,2.5,3.5,4],"range":["#00008f","#0000ff","#00ffff","#ffff00","#ff0000","#800000"]},"legend":null}}},{"mark":{"type":"rect","opacity":0},"encoding":{"y":{"field":"m","type":"quantitative","scale":{"domain":[1,12]},"axis":{"orient":"right","values":[3,6,9,12],"labels":false,"title":null}}}}]},
{"title":"2018 @0.4<S₄<=0.5","data":{"name":"b18"},"width":832,"height":213,"mark":{"type":"rect","clip":true},"encoding":{"x":{"field":"lt","type":"quantitative","scale":{"domain":[18,27]},"axis":null},"x2":{"field":"lt2"},"y":{"field":"m","type":"quantitative","scale":{"domain":[1,12]},"axis":null},"y2":{"field":"m2"},"color":{"field":"v","type":"quantitative","scale":{"domain":[0,0.1875,0.5625,0.9375,1.3125,1.5],"range":["#00008f","#0000ff","#00ffff","#ffff00","#ff0000","#800000"]},"legend":null}}},
{"title":"2018 @S₄>0.5","data":{"name":"c18"},"width":834,"height":213,"mark":{"type":"rect","clip":true},"encoding":{"x":{"field":"lt","type":"quantitative","scale":{"domain":[18,27]},"axis":null},"x2":{"field":"lt2"},"y":{"field":"m","type":"quantitative","scale":{"domain":[1,12]},"axis":null},"y2":{"field":"m2"},"color":{"field":"v","type":"quantitative","scale":{"domain":[0,0.125,0.375,0.625,0.875,1],"range":["#00008f","#0000ff","#00ffff","#ffff00","#ff0000","#800000"]},"legend":null}}},
{"title":"2019@0.3<S₄<=0.4","data":{"name":"a19"},"width":834,"height":213,"resolve":{"axis":{"y":"independent"}},"encoding":{"x":{"field":"lt","type":"quantitative","scale":{"domain":[18,27]},"axis":null},"x2":{"field":"lt2"},"y":{"field":"m","type":"quantitative","scale":{"domain":[1,12]},"axis":{"values":[3,6,9,12],"title":"Month","labelPadding":16,"titlePadding":16}},"y2":{"field":"m2"}},"layer":[{"mark":{"type":"rect","clip":true},"encoding":{"color":{"field":"v","type":"quantitative","scale":{"domain":[0,0.5,1.5,2.5,3.5,4],"range":["#00008f","#0000ff","#00ffff","#ffff00","#ff0000","#800000"]},"legend":null}}},{"mark":{"type":"rect","opacity":0},"encoding":{"y":{"field":"m","type":"quantitative","scale":{"domain":[1,12]},"axis":{"orient":"right","values":[3,6,9,12],"labels":false,"title":null}}}}]},
{"title":"2019@0.4<S₄<=0.5","data":{"name":"b19"},"width":832,"height":213,"mark":{"type":"rect","clip":true},"encoding":{"x":{"field":"lt","type":"quantitative","scale":{"domain":[18,27]},"axis":null},"x2":{"field":"lt2"},"y":{"field":"m","type":"quantitative","scale":{"domain":[1,12]},"axis":null},"y2":{"field":"m2"},"color":{"field":"v","type":"quantitative","scale":{"domain":[0,0.1875,0.5625,0.9375,1.3125,1.5],"range":["#00008f","#0000ff","#00ffff","#ffff00","#ff0000","#800000"]},"legend":null}}},
{"title":"2019 @S₄>0.5","data":{"name":"c19"},"width":834,"height":213,"mark":{"type":"rect","clip":true},"encoding":{"x":{"field":"lt","type":"quantitative","scale":{"domain":[18,27]},"axis":null},"x2":{"field":"lt2"},"y":{"field":"m","type":"quantitative","scale":{"domain":[1,12]},"axis":null},"y2":{"field":"m2"},"color":{"field":"v","type":"quantitative","scale":{"domain":[0,0.125,0.375,0.625,0.875,1],"range":["#00008f","#0000ff","#00ffff","#ffff00","#ff0000","#800000"]},"legend":null}}},
{"title":"2020 @0.3<S₄<=0.4","data":{"name":"a20"},"width":834,"height":213,"resolve":{"axis":{"y":"independent"}},"encoding":{"x":{"field":"lt","type":"quantitative","scale":{"domain":[18,27]},"axis":null},"x2":{"field":"lt2"},"y":{"field":"m","type":"quantitative","scale":{"domain":[1,12]},"axis":{"values":[3,6,9,12],"title":"Month","labelPadding":16,"titlePadding":16}},"y2":{"field":"m2"}},"layer":[{"mark":{"type":"rect","clip":true},"encoding":{"color":{"field":"v","type":"quantitative","scale":{"domain":[0,0.5,1.5,2.5,3.5,4],"range":["#00008f","#0000ff","#00ffff","#ffff00","#ff0000","#800000"]},"legend":null}}},{"mark":{"type":"rect","opacity":0},"encoding":{"y":{"field":"m","type":"quantitative","scale":{"domain":[1,12]},"axis":{"orient":"right","values":[3,6,9,12],"labels":false,"title":null}}}}]},
{"title":"2020 @0.4<S₄<=0.5","data":{"name":"b20"},"width":832,"height":213,"mark":{"type":"rect","clip":true},"encoding":{"x":{"field":"lt","type":"quantitative","scale":{"domain":[18,27]},"axis":null},"x2":{"field":"lt2"},"y":{"field":"m","type":"quantitative","scale":{"domain":[1,12]},"axis":null},"y2":{"field":"m2"},"color":{"field":"v","type":"quantitative","scale":{"domain":[0,0.1875,0.5625,0.9375,1.3125,1.5],"range":["#00008f","#0000ff","#00ffff","#ffff00","#ff0000","#800000"]},"legend":null}}},
{"title":"2020 @S₄>0.5","data":{"name":"c20"},"width":834,"height":213,"mark":{"type":"rect","clip":true},"encoding":{"x":{"field":"lt","type":"quantitative","scale":{"domain":[18,27]},"axis":null},"x2":{"field":"lt2"},"y":{"field":"m","type":"quantitative","scale":{"domain":[1,12]},"axis":null},"y2":{"field":"m2"},"color":{"field":"v","type":"quantitative","scale":{"domain":[0,0.125,0.375,0.625,0.875,1],"range":["#00008f","#0000ff","#00ffff","#ffff00","#ff0000","#800000"]},"legend":null}}},
{"title":"2021 @0.3<S₄<=0.4","data":{"name":"a21"},"width":834,"height":213,"resolve":{"axis":{"x":"independent","y":"independent"}},"encoding":{"x":{"field":"lt","type":"quantitative","scale":{"domain":[18,27]},"axis":{"values":[18,19,20,21,22,23,24,25,26,27],"labelExpr":"datum.value > 24 ? datum.value - 24 : datum.value","title":"LT","labelPadding":22,"titlePadding":14}},"x2":{"field":"lt2"},"y":{"field":"m","type":"quantitative","scale":{"domain":[1,12]},"axis":{"values":[3,6,9,12],"title":"Month","labelPadding":16,"titlePadding":16}},"y2":{"field":"m2"}},"layer":[{"mark":{"type":"rect","clip":true},"encoding":{"color":{"field":"v","type":"quantitative","scale":{"domain":[0,0.5,1.5,2.5,3.5,4],"range":["#00008f","#0000ff","#00ffff","#ffff00","#ff0000","#800000"]},"legend":null}}},{"mark":{"type":"rect","opacity":0},"encoding":{"x":{"field":"lt","type":"quantitative","scale":{"domain":[18,27]},"axis":{"orient":"top","values":[18,19,20,21,22,23,24,25,26,27],"labels":false,"title":null}},"y":{"field":"m","type":"quantitative","scale":{"domain":[1,12]},"axis":{"orient":"right","values":[3,6,9,12],"labels":false,"title":null}}}}]},
{"title":"2021 @0.4<S₄<=0.5","data":{"name":"b21"},"width":832,"height":213,"resolve":{"axis":{"x":"independent"}},"encoding":{"x":{"field":"lt","type":"quantitative","scale":{"domain":[18,27]},"axis":{"values":[18,19,20,21,22,23,24,25,26,27],"labelExpr":"datum.value > 24 ? datum.value - 24 : datum.value","title":"LT","labelPadding":22,"titlePadding":14}},"x2":{"field":"lt2"},"y":{"field":"m","type":"quantitative","scale":{"domain":[1,12]},"axis":null},"y2":{"field":"m2"}},"layer":[{"mark":{"type":"rect","clip":true},"encoding":{"color":{"field":"v","type":"quantitative","scale":{"domain":[0,0.1875,0.5625,0.9375,1.3125,1.5],"range":["#00008f","#0000ff","#00ffff","#ffff00","#ff0000","#800000"]},"legend":null}}},{"mark":{"type":"rect","opacity":0},"encoding":{"x":{"field":"lt","type":"quantitative","scale":{"domain":[18,27]},"axis":{"orient":"top","values":[18,19,20,21,22,23,24,25,26,27],"labels":false,"title":null}}}}]},
{"title":"2021 @S₄>0.5","data":{"name":"c21"},"width":834,"height":213,"resolve":{"axis":{"x":"independent"}},"encoding":{"x":{"field":"lt","type":"quantitative","scale":{"domain":[18,27]},"axis":{"values":[18,19,20,21,22,23,24,25,26,27],"labelExpr":"datum.value > 24 ? datum.value - 24 : datum.value","title":"LT","labelPadding":22,"titlePadding":14}},"x2":{"field":"lt2"},"y":{"field":"m","type":"quantitative","scale":{"domain":[1,12]},"axis":null},"y2":{"field":"m2"}},"layer":[{"mark":{"type":"rect","clip":true},"encoding":{"color":{"field":"v","type":"quantitative","scale":{"domain":[0,0.125,0.375,0.625,0.875,1],"range":["#00008f","#0000ff","#00ffff","#ffff00","#ff0000","#800000"]},"legend":null}}},{"mark":{"type":"rect","opacity":0},"encoding":{"x":{"field":"lt","type":"quantitative","scale":{"domain":[18,27]},"axis":{"orient":"top","values":[18,19,20,21,22,23,24,25,26,27],"labels":false,"title":null}}}}]}
]}
